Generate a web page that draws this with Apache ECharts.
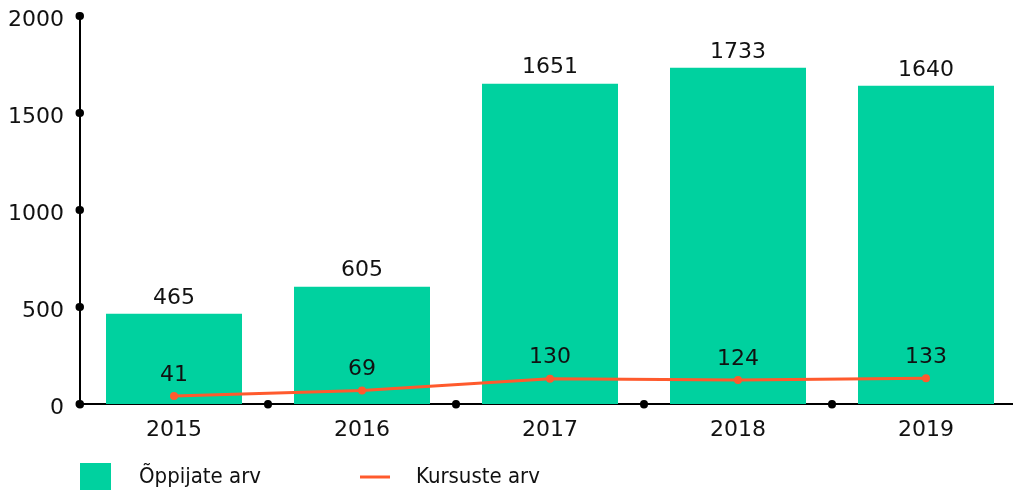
<!DOCTYPE html>
<html>
<head>
<meta charset="utf-8">
<script src="https://cdn.jsdelivr.net/npm/echarts@6/dist/echarts.min.js"></script>
<style>
  html, body { margin: 0; padding: 0; background: #fff; overflow: hidden; }
  /* the plot runs a few pixels past the right edge of the window */
  #chart { width: 1020px; height: 490px; }
</style>
</head>
<body>
<div id="chart"></div>
<script>
// Data
const years = ['2015', '2016', '2017', '2018', '2019'];
const learners = [465, 605, 1651, 1733, 1640];
const courses = [41, 69, 130, 124, 133];

const GREEN = '#00d19f';
const ORANGE = '#ff5a2d';
const FONT = 'DejaVu Sans, sans-serif';
const LEGEND_FONT = 'DejaVu Sans Condensed, DejaVu Sans, sans-serif';
const dotTick = { show: true, length: 0.5, lineStyle: { color: '#000', width: 8, cap: 'round' } };

let chart = echarts.init(document.getElementById('chart'));

chart.setOption({
    animation: false,
    textStyle: { fontFamily: FONT },

    grid: { left: 80, top: 16, right: 0, bottom: 86, containLabel: false },

    legend: [{
        data: [{ name: 'Õppijate arv', icon: 'rect' }],
        left: 80, top: 463, padding: 0,
        itemWidth: 31, itemHeight: 28,
        textStyle: { fontSize: 22, color: '#111', padding: [0, 0, 0, 23], fontFamily: LEGEND_FONT }
    }, {
        data: [{ name: 'Kursuste arv', icon: 'rect' }],
        left: 360, top: 463, padding: 0,
        itemWidth: 30, itemHeight: 3,
        textStyle: { fontSize: 22, color: '#111', padding: [0, 0, 0, 21], lineHeight: 28, fontFamily: LEGEND_FONT }
    }],

    xAxis: {
        type: 'category',
        data: years,
        axisLine: { lineStyle: { color: '#000', width: 2 } },
        axisTick: dotTick,
        axisLabel: { color: '#111', fontSize: 22, margin: 15, fontFamily: FONT }
    },

    yAxis: {
        type: 'value',
        min: 0, max: 2000, interval: 500,
        splitLine: { show: false },
        axisLine: { show: true, lineStyle: { color: '#000', width: 2 } },
        axisTick: dotTick,
        axisLabel: {
            color: '#111', fontSize: 22, margin: 16, fontFamily: FONT,
            verticalAlign: 'top', lineHeight: 9,
            formatter: v => String(v)
        }
    },

    series: [{
        name: 'Õppijate arv',
        type: 'bar',
        data: learners,
        barWidth: 136,
        itemStyle: { color: GREEN },
        label: { show: true, position: 'top', distance: 5, color: '#111', fontSize: 22, fontFamily: FONT }
    }, {
        name: 'Kursuste arv',
        type: 'line',
        data: courses,
        symbol: 'circle',
        symbolSize: 8,
        lineStyle: { color: ORANGE, width: 3 },
        itemStyle: { color: ORANGE },
        label: { show: true, position: 'top', distance: 6, color: '#111', fontSize: 22, fontFamily: FONT }
    }]
});
</script>
</body>
</html>
